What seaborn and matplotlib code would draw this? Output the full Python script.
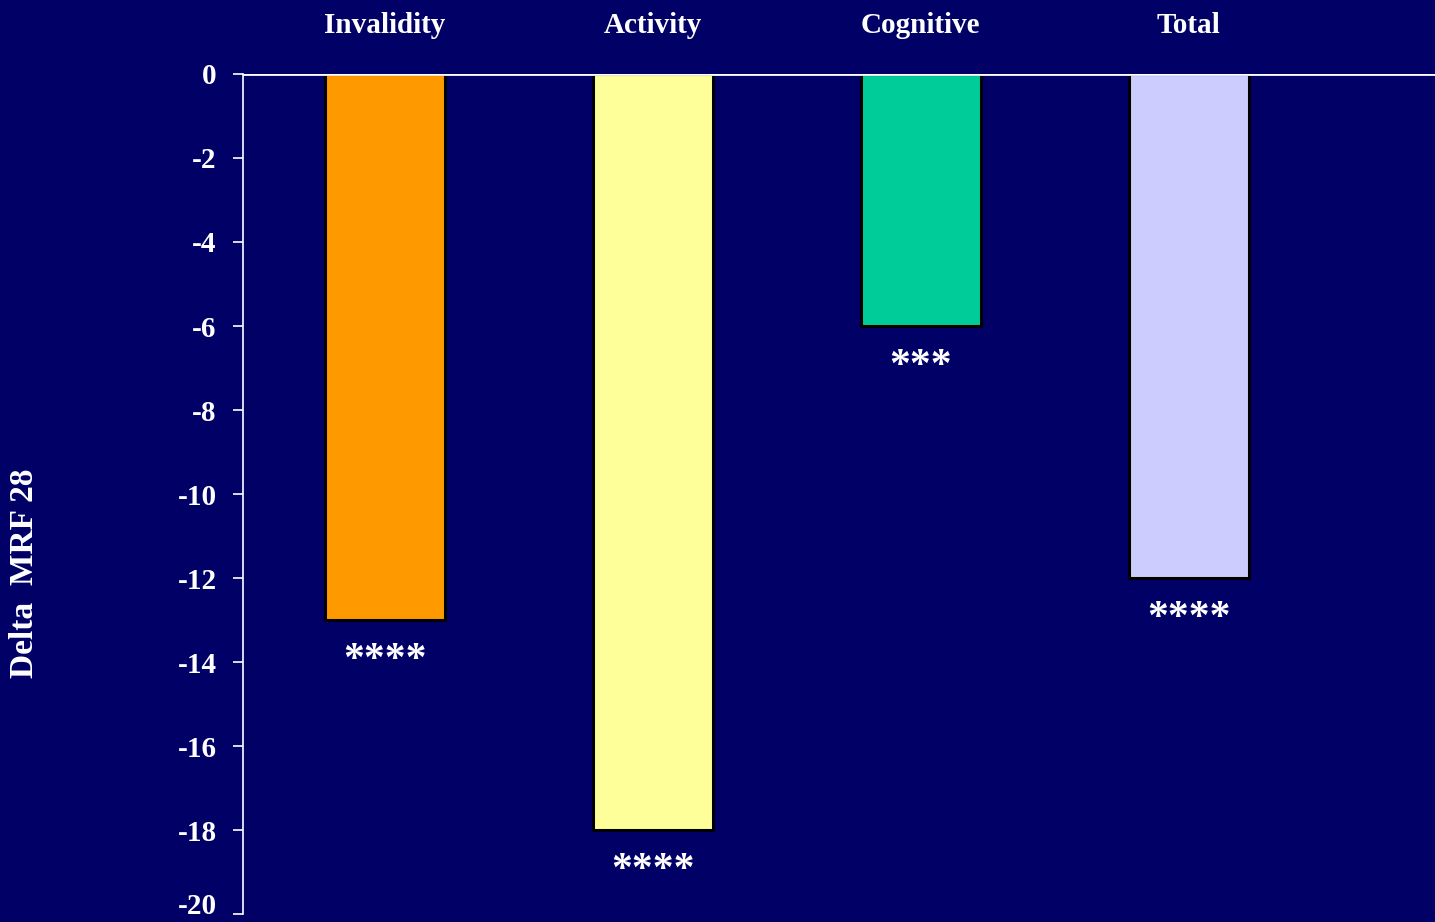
import matplotlib
matplotlib.use("Agg")
import matplotlib.pyplot as plt
import seaborn as sns

# data
categories = ["Invalidity", "Activity", "Cognitive", "Total"]
delta_mrf = [-13, -18, -6, -12]
signif = ["****", "****", "***", "****"]
bar_colors = ["#FF9900", "#FFFF99", "#00CC99", "#CCCCFF"]
y_ticks = list(range(0, -21, -2))

bg = "#000066"
sns.set_style("white")
plt.rcParams["font.family"] = ["Liberation Serif", "DejaVu Serif"]
plt.rcParams["font.weight"] = "bold"

fig = plt.figure(figsize=(14.35, 9.22), dpi=100, facecolor=bg)
ax = fig.add_axes([243 / 1435, 1 - 914 / 922, 1 - 243 / 1435, (914 - 74) / 922])
ax.set_facecolor(bg)

sns.barplot(x=categories, y=delta_mrf, hue=categories, palette=bar_colors,
            legend=False, width=0.448, edgecolor="black", linewidth=2.2,
            saturation=1, ax=ax)

ax.axhline(0, color="white", lw=2, zorder=5)
ax.set_ylim(-20, 0)
ax.set_xlim(-0.53, 3.92)
ax.set_yticks(y_ticks)
ax.set_yticklabels([str(t) for t in y_ticks], fontsize=21, fontweight="bold", color="white")
ax.tick_params(axis="y", direction="out", length=7, width=1.2, color="white", pad=12, left=True)
ax.get_yticklabels()[-1].set_va("baseline")

ax.xaxis.tick_top()
ax.set_xticks(range(len(categories)))
ax.set_xticklabels(categories, fontsize=21, fontweight="bold", color="white")
ax.tick_params(axis="x", length=0, pad=25)

for s in ["top", "right", "bottom"]:
    ax.spines[s].set_visible(False)
ax.spines["left"].set_color("white")
ax.spines["left"].set_linewidth(1.2)

ax.set_ylabel("")
fig.text(25 / 1435, 1 - 573 / 922, "Delta  MRF 28", rotation=90, ha="center", va="center",
         fontsize=24, fontweight="bold", color="white")

# significance stars under each bar
for patch, mark in zip(ax.patches, signif):
    xc = patch.get_x() + patch.get_width() / 2
    yb = min(patch.get_y(), patch.get_y() + patch.get_height())
    ax.annotate(mark, (xc, yb), xytext=(0, -16), textcoords="offset points",
                ha="center", va="top", fontsize=30, fontweight="bold", color="white")

fig.savefig("out.png", dpi=100, facecolor=bg)
